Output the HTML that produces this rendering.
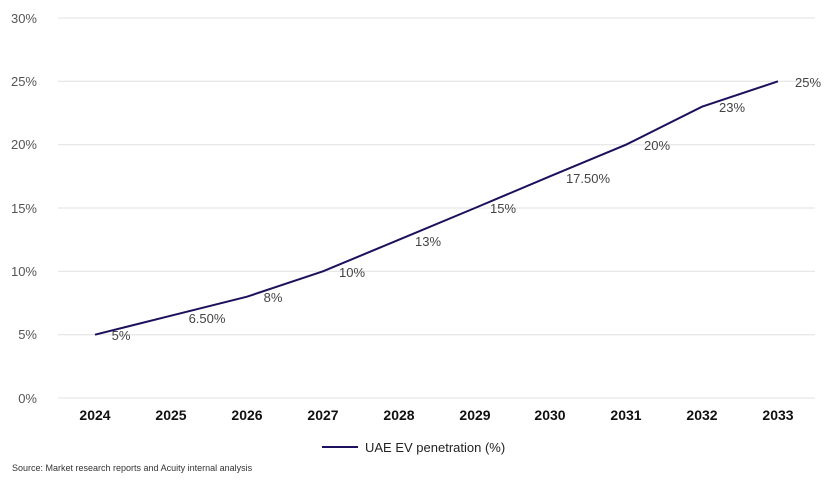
<!DOCTYPE html>
<html><head><meta charset="utf-8"><style>
body{margin:0;background:#fff;}
svg{display:block;font-family:"Liberation Sans",sans-serif;}
</style></head><body>
<svg width="830" height="485" viewBox="0 0 830 485">
<g stroke="#e0e0e0" stroke-width="1">
<line x1="58" x2="815" y1="18" y2="18"/><line x1="58" x2="815" y1="81.3" y2="81.3"/>
<line x1="58" x2="815" y1="144.7" y2="144.7"/><line x1="58" x2="815" y1="208" y2="208"/>
<line x1="58" x2="815" y1="271.3" y2="271.3"/><line x1="58" x2="815" y1="334.7" y2="334.7"/>
<line x1="58" x2="815" y1="398" y2="398"/>
</g>
<g fill="#555" font-size="13" text-anchor="end">
<text x="37" y="23">30%</text><text x="37" y="86">25%</text><text x="37" y="149">20%</text>
<text x="37" y="213">15%</text><text x="37" y="276">10%</text><text x="37" y="339">5%</text><text x="37" y="403">0%</text>
</g>
<g fill="#111" font-size="14" font-weight="bold" text-anchor="middle">
<text x="95" y="420">2024</text><text x="171" y="420">2025</text><text x="247" y="420">2026</text>
<text x="323" y="420">2027</text><text x="399" y="420">2028</text><text x="475" y="420">2029</text>
<text x="550" y="420">2030</text><text x="626" y="420">2031</text><text x="702" y="420">2032</text>
<text x="778" y="420">2033</text>
</g>
<polyline fill="none" stroke="#1e0f5c" stroke-width="2" points="95,334.7 171,315.7 247,296.7 323,271.3 399,239.7 475,208 550,176.3 626,144.7 702,106.7 778,81.3"/>
<g fill="#444" font-size="13" text-anchor="middle">
<text x="121" y="340">5%</text><text x="207" y="323">6.50%</text><text x="273" y="302">8%</text>
<text x="352" y="277">10%</text><text x="428" y="246">13%</text><text x="503" y="213">15%</text>
<text x="588" y="183">17.50%</text><text x="657" y="150">20%</text><text x="732" y="112">23%</text>
<text x="808" y="87">25%</text>
</g>
<line x1="322" x2="358" y1="447" y2="447" stroke="#1e0f5c" stroke-width="2"/>
<text x="365" y="452" font-size="13" fill="#222">UAE EV penetration (%)</text>
<text x="12" y="471" font-size="9" fill="#333">Source: Market research reports and Acuity internal analysis</text>
</svg>
</body></html>
